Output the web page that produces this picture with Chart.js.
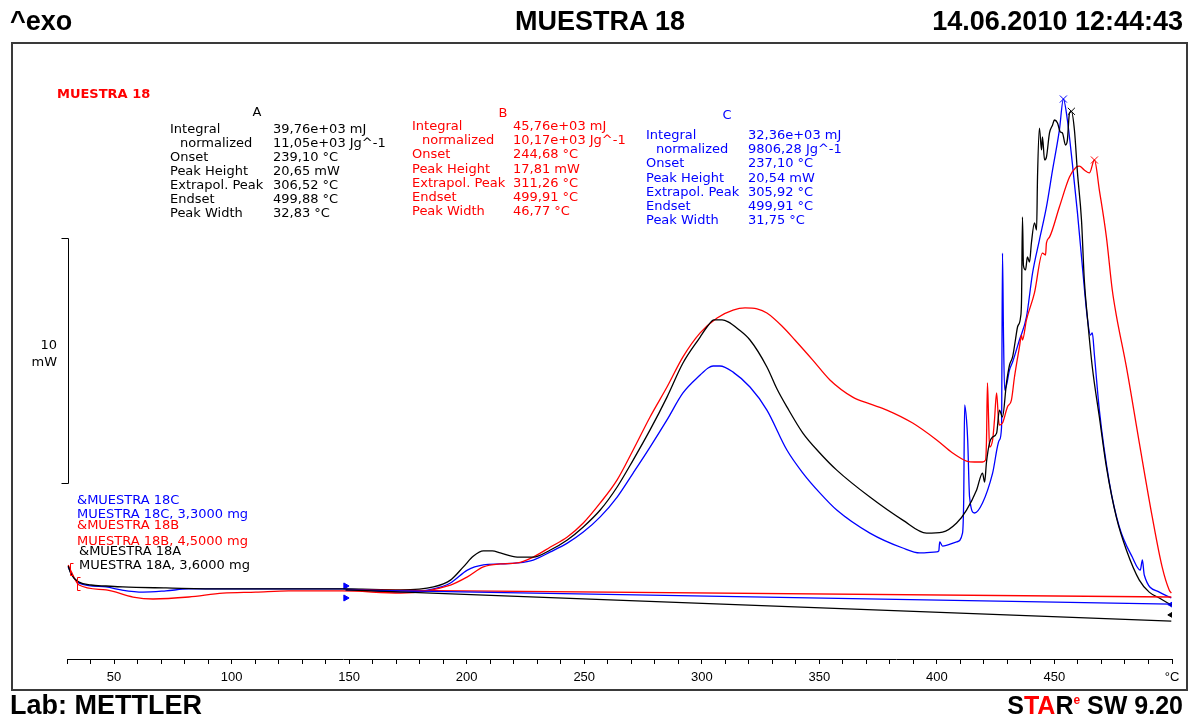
<!DOCTYPE html>
<html>
<head>
<meta charset="utf-8">
<script src="https://cdn.jsdelivr.net/npm/chart.js@4.4.1/dist/chart.umd.min.js"></script>
<style>
  html, body { margin: 0; padding: 0; background: #fff; }
  #wrap { position: relative; width: 1190px; height: 715px; overflow: hidden; background: #fff; }
  #c { position: absolute; left: 0; top: 0; }
  .frame { position: absolute; left: 11px; top: 42px; width: 1177px; height: 649px; border: 2px solid #3a3a3a; box-sizing: border-box; }
  .hd { position: absolute; font-family: "Liberation Sans", Arial, sans-serif; font-weight: bold; font-size: 27px; line-height: 27px; white-space: nowrap; color: #000; }
  .sm { position: absolute; font-family: "DejaVu Sans", Verdana, sans-serif; font-size: 13px; line-height: 14px; white-space: nowrap; }
  .smb { font-weight: bold; }
  .red { color: #ff0000; }
  .sup { position: relative; top: -10px; font-size: 12px; line-height: 0; }
</style>
</head>
<body>
<div id="wrap">
  <div class="frame"></div>
  <canvas id="c" width="1190" height="715"></canvas>
</div>
<script>
// ---- DSC curves: temperature (°C) and heat flow (mW, exo up) ----
// Sample A (black)
const tempA = [
  30.5, 31.7, 35.1, 40.2, 46.6, 53.8, 72.1, 96.3, 147.2, 171.9,
  185.9, 193.1, 198.6, 202.9, 207.1, 210.9, 214.3, 221.5, 228.3, 235.6,
  242.8, 249.6, 256.8, 264.0, 270.8, 278.0, 285.2, 292.0, 299.3, 302.2,
  305.2, 308.6, 311.2, 315.4, 320.5, 327.7, 332.0, 336.2, 343.0, 350.2,
  357.4, 371.5, 385.5, 395.6, 402.4, 408.4, 412.6, 416.9, 419.4, 420.3,
  421.1, 422.4, 423.7, 425.4, 426.6, 427.9, 429.6, 430.9, 432.2, 433.4,
  434.3, 435.6, 436.0, 436.4, 436.8, 437.7, 438.5, 439.4, 440.2, 441.5,
  442.4, 442.8, 443.6, 444.5, 444.9, 445.8, 446.6, 447.9, 449.2, 450.0,
  451.3, 452.5, 453.4, 454.7, 455.5, 456.4, 458.5, 459.8, 461.5, 462.7,
  464.0, 466.1, 469.1, 472.1, 476.3, 480.6, 486.1, 490.3, 494.6, 499.7
];
const mwA = [
  3.80, 3.47, 3.14, 3.02, 2.98, 2.94, 2.90, 2.86, 2.86, 2.82,
  2.94, 3.22, 3.76, 4.20, 4.41, 4.41, 4.33, 4.16, 4.16, 4.45,
  4.86, 5.39, 6.08, 7.02, 8.12, 9.35, 10.69, 12.08, 13.14, 13.55,
  13.84, 13.84, 13.76, 13.47, 13.02, 11.92, 11.02, 10.29, 9.22, 8.41,
  7.71, 6.61, 5.67, 5.14, 5.18, 5.55, 6.08, 6.90, 7.59, 7.22,
  8.04, 8.82, 9.06, 9.22, 10.16, 9.88, 11.27, 12.00, 12.33, 13.02,
  13.55, 13.96, 14.65, 18.04, 16.08, 15.88, 16.41, 16.20, 16.98, 17.80,
  17.51, 19.67, 21.67, 20.78, 21.31, 20.37, 20.49, 21.47, 21.80, 22.00,
  21.88, 21.51, 21.47, 20.98, 21.18, 22.29, 21.59, 19.84, 17.92, 15.47,
  13.96, 11.92, 9.88, 7.84, 5.80, 4.45, 3.22, 2.73, 2.49, 2.20
];
// Sample B (red)
const tempB = [
  30.5, 31.7, 35.1, 46.6, 58.1, 66.6, 81.8, 96.3, 110.3, 124.3,
  147.2, 171.9, 193.1, 200.3, 207.1, 214.3, 221.5, 228.3, 235.6, 242.8,
  249.6, 256.8, 264.0, 270.8, 278.0, 285.2, 292.0, 299.3, 306.5, 313.3,
  318.4, 323.5, 327.7, 334.5, 339.6, 347.2, 354.5, 364.2, 371.5, 378.7,
  389.7, 399.9, 406.7, 412.6, 416.0, 419.4, 420.7, 421.1, 421.5, 422.0,
  422.4, 423.7, 424.5, 425.4, 426.2, 426.6, 427.9, 430.0, 431.7, 433.0,
  435.1, 436.0, 436.4, 438.1, 441.5, 444.9, 446.2, 446.6, 447.9, 452.1,
  456.4, 459.3, 460.6, 462.7, 464.9, 469.1, 472.1, 474.6, 476.3, 480.6,
  486.1, 491.6, 495.8, 498.8, 499.7
];
const mwB = [
  3.84, 3.59, 3.02, 2.82, 2.53, 2.45, 2.53, 2.69, 2.73, 2.78,
  2.78, 2.69, 3.02, 3.35, 3.76, 3.88, 3.92, 4.16, 4.57, 4.98,
  5.55, 6.37, 7.31, 8.53, 9.88, 11.10, 12.33, 13.31, 13.92, 14.24,
  14.33, 14.29, 14.12, 13.55, 13.02, 12.20, 11.39, 10.69, 10.41, 10.16,
  9.63, 8.94, 8.41, 8.08, 8.04, 8.04, 8.12, 8.94, 11.27, 9.76,
  8.65, 8.94, 9.76, 10.86, 9.76, 9.55, 9.63, 10.29, 10.57, 11.51,
  12.73, 13.22, 13.02, 13.84, 14.94, 16.57, 16.49, 16.98, 17.22, 18.45,
  19.67, 20.08, 20.12, 19.96, 19.84, 19.14, 17.22, 15.06, 14.04, 11.92,
  8.82, 5.80, 3.76, 2.82, 2.69
];
// Sample C (blue)
const tempC = [
  30.5, 31.7, 35.1, 46.6, 53.0, 62.3, 72.1, 81.8, 110.3, 147.2,
  171.9, 185.9, 193.1, 200.3, 207.1, 214.3, 221.5, 228.3, 235.6, 242.8,
  249.6, 256.8, 264.0, 270.8, 278.0, 285.2, 292.0, 299.3, 302.7, 304.8,
  307.7, 313.3, 320.5, 327.7, 336.2, 343.0, 350.2, 357.4, 371.5, 385.5,
  392.7, 399.9, 400.8, 401.2, 402.4, 408.4, 410.9, 411.4, 411.8, 412.6,
  413.1, 413.9, 416.0, 419.4, 423.7, 426.6, 427.5, 427.9, 428.3, 428.8,
  429.6, 430.9, 432.2, 435.1, 438.1, 440.7, 443.6, 446.6, 449.2, 452.1,
  455.5, 457.6, 459.8, 461.9, 464.0, 465.3, 466.1, 467.0, 469.1, 473.4,
  477.6, 483.1, 486.5, 487.4, 488.2, 494.6, 499.7
];
const mwC = [
  3.76, 3.51, 3.10, 2.94, 2.82, 2.73, 2.78, 2.86, 2.86, 2.86,
  2.73, 2.86, 3.10, 3.63, 3.84, 3.88, 3.92, 4.04, 4.37, 4.73,
  5.18, 5.80, 6.61, 7.59, 8.65, 9.76, 10.86, 11.59, 11.88, 11.96,
  11.96, 11.71, 11.10, 10.16, 8.53, 7.59, 6.78, 6.08, 5.14, 4.53,
  4.33, 4.37, 4.41, 4.78, 4.61, 4.78, 5.14, 6.49, 10.37, 9.76,
  8.94, 6.61, 5.96, 6.37, 7.59, 8.94, 9.47, 16.57, 13.43, 10.98,
  11.18, 11.80, 12.12, 13.02, 13.96, 15.76, 17.10, 18.45, 19.96, 21.59,
  22.00, 20.24, 18.20, 16.00, 13.92, 13.22, 13.31, 12.41, 10.16, 7.18,
  5.39, 4.16, 3.63, 4.04, 3.43, 2.73, 2.49
];

// Integration baselines (start / end of the evaluation range)
const baseTemp = [148.5, 499.7];
const baseA = [2.82, 1.55];
const baseB = [2.82, 2.53];
const baseC = [2.82, 2.24];

// Evaluation results, order A, B, C
const sampleNames = ["A", "B", "C"];
const integralTxt = ["39,76e+03 mJ", "45,76e+03 mJ", "32,36e+03 mJ"];
const normalizedTxt = ["11,05e+03 Jg^-1", "10,17e+03 Jg^-1", "9806,28 Jg^-1"];
const onsetC = [239.10, 244.68, 237.10];
const peakHeight = [20.65, 17.81, 20.54];
const extrapolPeakC = [306.52, 311.26, 305.92];
const endsetC = [499.88, 499.91, 499.91];
const peakWidthC = [32.83, 46.77, 31.75];
const peakTemp = [457.2, 467.0, 453.8];   // position of the maximum (× marker)

// Range-start brackets on curve B: [temperature, upper mW, lower mW]
const bracketMarks = [[31.2, 3.92, 3.43], [34.2, 3.35, 2.82]];

// Sample legend
const legendLines = ["&MUESTRA 18C", "MUESTRA 18C, 3,3000 mg", "&MUESTRA 18B", "MUESTRA 18B, 4,5000 mg", "&MUESTRA 18A", "MUESTRA 18A, 3,6000 mg"];

// Axis
const xMin = 30, xMax = 500, xStep = 10, xLabelStep = 50;
const barLow = 7.2, barSpan = 10;   // "10 mW" scale bar

const BLACK = "#000000", RED = "#ff0000", BLUE = "#0000ff";

function fmt(v) { return v.toFixed(2).replace(".", ","); }
function series(t, v) { const n = Math.min(t.length, v.length); const out = []; for (let i = 0; i < n; i++) out.push({ x: t[i], y: v[i] }); return out; }
function baseAt(b, T) { return b[0] + (b[1] - b[0]) * (T - baseTemp[0]) / (baseTemp[1] - baseTemp[0]); }
function withPeak(pts, T, v) { const p = pts.concat([{ x: T, y: v }]); p.sort((a, b) => a.x - b.x); return p; }

const bases = [baseA, baseB, baseC];
const peakVal = peakTemp.map((T, i) => baseAt(bases[i], T) + peakHeight[i]);

const lineDs = (data, color, smooth) => ({
  data, borderColor: color, borderWidth: 1.3, pointRadius: 0, fill: false,
  tension: 0, cubicInterpolationMode: smooth ? "monotone" : "default"
});

const datasets = [
  lineDs(series(baseTemp, baseA), BLACK, false),
  lineDs(series(baseTemp, baseC), BLUE, false),
  lineDs(series(baseTemp, baseB), RED, false),
  lineDs(withPeak(series(tempA, mwA), peakTemp[0], peakVal[0]), BLACK, true),
  lineDs(withPeak(series(tempB, mwB), peakTemp[1], peakVal[1]), RED, true),
  lineDs(withPeak(series(tempC, mwC), peakTemp[2], peakVal[2]), BLUE, true),
  { type: "scatter", data: [{ x: peakTemp[0], y: peakVal[0] }], pointStyle: "crossRot", pointRadius: 5, borderColor: BLACK, borderWidth: 1, showLine: false },
  { type: "scatter", data: [{ x: peakTemp[1], y: peakVal[1] }], pointStyle: "crossRot", pointRadius: 5, borderColor: RED, borderWidth: 1, showLine: false },
  { type: "scatter", data: [{ x: peakTemp[2], y: peakVal[2] }], pointStyle: "crossRot", pointRadius: 5, borderColor: BLUE, borderWidth: 1, showLine: false },
  { type: "scatter", data: [{ x: baseTemp[0], y: 2.98 }, { x: baseTemp[0], y: 2.49 }], pointStyle: "triangle", rotation: 90, pointRadius: 3.5, backgroundColor: BLUE, borderColor: BLUE, borderWidth: 1, showLine: false },
  { type: "scatter", data: [{ x: baseTemp[1], y: 2.22 }], pointStyle: "triangle", rotation: -90, pointRadius: 3.5, backgroundColor: BLUE, borderColor: BLUE, borderWidth: 1, showLine: false },
  { type: "scatter", data: [{ x: baseTemp[1], y: 1.80 }], pointStyle: "triangle", rotation: -90, pointRadius: 3.5, backgroundColor: BLACK, borderColor: BLACK, borderWidth: 1, showLine: false }
];

// "10 mW" bracket on the left and the small range brackets, drawn from the scales
const marks = {
  id: "marks",
  afterDraw(chart) {
    const { ctx, chartArea, scales } = chart;
    const x = Math.round(chartArea.left + 1) + 0.5;
    const yT = Math.round(scales.y.getPixelForValue(barLow + barSpan)) + 0.5;
    const yB = Math.round(scales.y.getPixelForValue(barLow)) + 0.5;
    ctx.save();
    ctx.strokeStyle = "#000";
    ctx.lineWidth = 1;
    ctx.beginPath();
    ctx.moveTo(x - 7, yT); ctx.lineTo(x, yT); ctx.lineTo(x, yB); ctx.lineTo(x - 7, yB);
    ctx.stroke();
    ctx.strokeStyle = RED;
    bracketMarks.forEach(([T, hi, lo]) => {
      const bx = Math.round(scales.x.getPixelForValue(T)) + 0.5;
      const y1 = Math.round(scales.y.getPixelForValue(hi)) + 0.5;
      const y2 = Math.round(scales.y.getPixelForValue(lo)) + 0.5;
      ctx.beginPath();
      ctx.moveTo(bx + 3, y1); ctx.lineTo(bx, y1); ctx.lineTo(bx, y2); ctx.lineTo(bx + 3, y2);
      ctx.stroke();
    });
    ctx.restore();
  }
};

new Chart(document.getElementById("c"), {
  type: "line",
  data: { datasets },
  plugins: [marks],
  options: {
    responsive: false,
    animation: false,
    devicePixelRatio: 1,
    layout: { padding: { left: 67, right: 18, top: 46.5, bottom: 26 } },
    plugins: { legend: { display: false }, tooltip: { enabled: false } },
    scales: {
      x: {
        type: "linear", min: xMin, max: xMax,
        afterFit(s) { s.height = 30; },
        border: { display: true, color: "#000", width: 1 },
        grid: { display: true, drawOnChartArea: false, drawTicks: true, tickLength: 5, color: "#000", lineWidth: 1 },
        ticks: {
          stepSize: xStep, autoSkip: false, maxRotation: 0, padding: 6, color: "#000",
          font: { family: "'Liberation Sans Narrow', 'Arial Narrow', 'Liberation Sans', sans-serif", size: 13 },
          callback: (v) => v === xMax ? "°C" : (v % xLabelStep === 0 ? String(v) : "")
        }
      },
      y: { display: false, min: 0, max: 25 }
    }
  }
});

// ---- text ----
const wrap = document.getElementById("wrap");
function put(text, x, yc, cls, color, align, off) {
  const d = document.createElement("div");
  d.className = cls;
  d.textContent = text;
  if (color) d.style.color = color;
  d.style.top = (yc - off) + "px";
  if (align === "right") d.style.right = (1190 - x) + "px";
  else if (align === "center") { d.style.left = x + "px"; d.style.transform = "translateX(-50%)"; }
  else d.style.left = x + "px";
  wrap.appendChild(d);
  return d;
}
const HB = 22.8;  // header baseline offset
put("^exo", 10, 31, "hd", BLACK, "left", HB);
put("MUESTRA 18", 600, 31, "hd", BLACK, "center", HB);
put("14.06.2010 12:44:43", 1183, 31, "hd", BLACK, "right", HB);
put("Lab: METTLER", 10, 715, "hd", BLACK, "left", HB);
const star = put("", 1183, 715, "hd", BLACK, "right", HB);
star.style.fontSize = "25px";
star.innerHTML = 'S<span class="red">TA</span>R<span class="sup red">e</span> SW 9.20';

const SO = 7;
put("MUESTRA 18", 57, 94, "sm smb", RED, "left", SO);
put("10", 57, 345, "sm", BLACK, "right", SO);
put("mW", 57, 362, "sm", BLACK, "right", SO);

const blockPos = [
  { hx: 257, hy: 112, lx: 170, vx: 273, y0: 129, dy: 14.0, color: BLACK },
  { hx: 503, hy: 113, lx: 412, vx: 513, y0: 126, dy: 14.2, color: RED },
  { hx: 727, hy: 115, lx: 646, vx: 748, y0: 135, dy: 14.2, color: BLUE }
];
const rowLabels = ["Integral", "normalized", "Onset", "Peak Height", "Extrapol. Peak", "Endset", "Peak Width"];
blockPos.forEach((b, i) => {
  const vals = [integralTxt[i], normalizedTxt[i], fmt(onsetC[i]) + " °C", fmt(peakHeight[i]) + " mW",
                fmt(extrapolPeakC[i]) + " °C", fmt(endsetC[i]) + " °C", fmt(peakWidthC[i]) + " °C"];
  put(sampleNames[i], b.hx, b.hy, "sm", b.color, "center", SO);
  rowLabels.forEach((lab, r) => {
    const y = b.y0 + b.dy * r;
    put(lab, b.lx + (r === 1 ? 10 : 0), y, "sm", b.color, "left", SO);
    put(vals[r], b.vx, y, "sm", b.color, "left", SO);
  });
});

const legendPos = [[77, 500, BLUE], [77, 514, BLUE], [77, 525, RED], [77, 541, RED], [79, 551, BLACK], [79, 565, BLACK]];
legendLines.forEach((t, i) => put(t, legendPos[i][0], legendPos[i][1], "sm", legendPos[i][2], "left", SO));
</script>
</body>
</html>
